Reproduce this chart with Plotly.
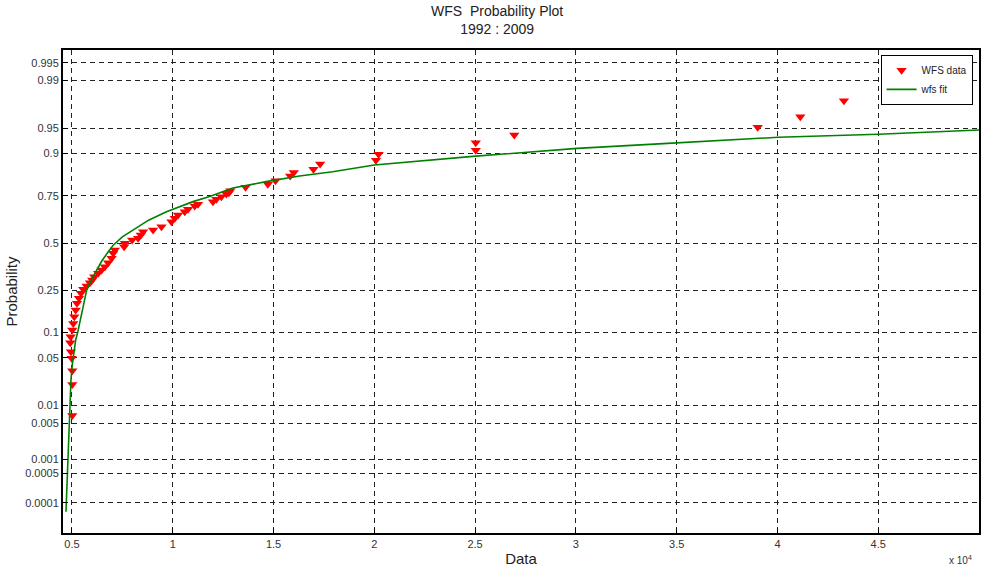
from statistics import NormalDist
import plotly.graph_objects as go

nd = NormalDist()

# Observed WFS values and their plotting positions
wfs_x = [5015, 5015, 5015, 4985, 4950, 4916, 4936, 5015, 5064, 5114,
         5183, 5248, 5347, 5446, 5559, 5728, 5891, 6005, 6104, 6302,
         6470, 6634, 6797, 6965, 7044, 7129, 7589, 7624, 7985, 8282,
         8416, 8529, 9024, 9440, 9935, 10099, 10262, 10594, 10757, 11089,
         11252, 11994, 12163, 12410, 12658, 12786, 12856, 13613, 14717, 15098,
         15826, 16004, 16979, 17311, 20083, 20211, 25033, 25033, 26944, 39022,
         41135, 43299]
wfs_p = [0.0068, 0.0215, 0.0339, 0.0495, 0.060, 0.077, 0.090, 0.1066, 0.125, 0.146,
         0.169, 0.194, 0.2144, 0.236, 0.254, 0.269, 0.285, 0.298, 0.315, 0.3325,
         0.350, 0.367, 0.389, 0.413, 0.4415, 0.460, 0.479, 0.498, 0.517, 0.527,
         0.545, 0.564, 0.574, 0.592, 0.620, 0.638, 0.655, 0.673, 0.685, 0.702,
         0.710, 0.722, 0.734, 0.746, 0.758, 0.764, 0.773, 0.787, 0.800, 0.813,
         0.831, 0.843, 0.854, 0.871, 0.882, 0.898, 0.908, 0.924, 0.939, 0.951,
         0.9646, 0.979]

# Fitted distribution curve
fit_x = [4703, 4777, 4851, 4886, 4950, 5015, 5099, 5183, 5282, 5380, 5480, 5600,
         5728, 5930, 6139, 6470, 6800, 7044, 7500, 8034, 8800, 9688, 11004, 11831, 12984, 14638,
         16286, 17934, 19999, 25033, 30062, 34106, 40046, 44996, 50095]
fit_p = [0.0000605, 0.00058, 0.00374, 0.0100, 0.0250, 0.0405, 0.063, 0.0826, 0.100, 0.128, 0.157, 0.205,
         0.250, 0.293, 0.335, 0.397, 0.450, 0.487, 0.535, 0.574, 0.628, 0.673, 0.723, 0.747, 0.784, 0.810,
         0.831, 0.846, 0.868, 0.893, 0.912, 0.922, 0.9348, 0.940, 0.9471]

# Probability axis ticks
prob_ticks = [0.0001, 0.0005, 0.001, 0.005, 0.01, 0.05, 0.1, 0.25, 0.5,
              0.75, 0.9, 0.95, 0.99, 0.995]
prob_labels = ["0.0001", "0.0005", "0.001", "0.005", "0.01", "0.05", "0.1", "0.25", "0.5",
               "0.75", "0.9", "0.95", "0.99", "0.995"]
data_ticks = [5000, 10000, 15000, 20000, 25000, 30000, 35000, 40000, 45000]
data_labels = ["0.5", "1", "1.5", "2", "2.5", "3", "3.5", "4", "4.5"]

# Normal probability paper: plot the standard normal quantile of each probability
q = nd.inv_cdf

FONT = "Liberation Sans, Arial, sans-serif"

fig = go.Figure()
fig.add_trace(go.Scatter(
    x=wfs_x, y=[q(p) for p in wfs_p], mode="markers", name="WFS data",
    marker=dict(symbol="triangle-down", color="#ff0000", size=9, line=dict(width=0)),
))
fig.add_trace(go.Scatter(
    x=fit_x, y=[q(p) for p in fit_p], mode="lines", name="wfs fit",
    line=dict(color="#008000", width=1.6),
))

grid = dict(showgrid=True, gridcolor="#222222", gridwidth=1, griddash="5px,4px",
            showline=True, linecolor="black", linewidth=2, mirror=True,
            ticks="inside", ticklen=5, tickcolor="black", zeroline=False,
            tickfont=dict(family=FONT, size=11, color="#333333"))

fig.update_xaxes(range=[4555, 50000], tickvals=data_ticks, ticktext=data_labels,
                 title=dict(text="Data", font=dict(family=FONT, size=15, color="#222222"),
                            standoff=4), **grid)
fig.update_yaxes(range=[q(p) for p in (0.0000167, 0.99712)],
                 tickvals=[q(p) for p in prob_ticks], ticktext=prob_labels,
                 title=dict(text="Probability", font=dict(family=FONT, size=15, color="#222222"),
                            standoff=4), **grid)

fig.update_layout(
    width=984, height=571,
    margin=dict(l=63, r=3, t=50, b=38),
    plot_bgcolor="white", paper_bgcolor="white",
    showlegend=True,
    legend=dict(x=0.993, xanchor="right", y=0.99, yanchor="top",
                bgcolor="white", bordercolor="black", borderwidth=1,
                font=dict(family=FONT, size=10, color="#222222"),
                tracegroupgap=0, itemwidth=30),
    annotations=[
        dict(text="WFS  Probability Plot<br>1992 : 2009", xref="paper", yref="paper",
             x=0.474, y=1.062, xanchor="center", yanchor="middle", showarrow=False,
             font=dict(family=FONT, size=14, color="#222222")),
        dict(text="x 10<sup>4</sup>", xref="paper", yref="paper",
             x=0.995, y=-0.056, xanchor="right", yanchor="middle", showarrow=False,
             font=dict(family=FONT, size=10, color="#333333")),
    ],
)

fig.write_html("out.html")
